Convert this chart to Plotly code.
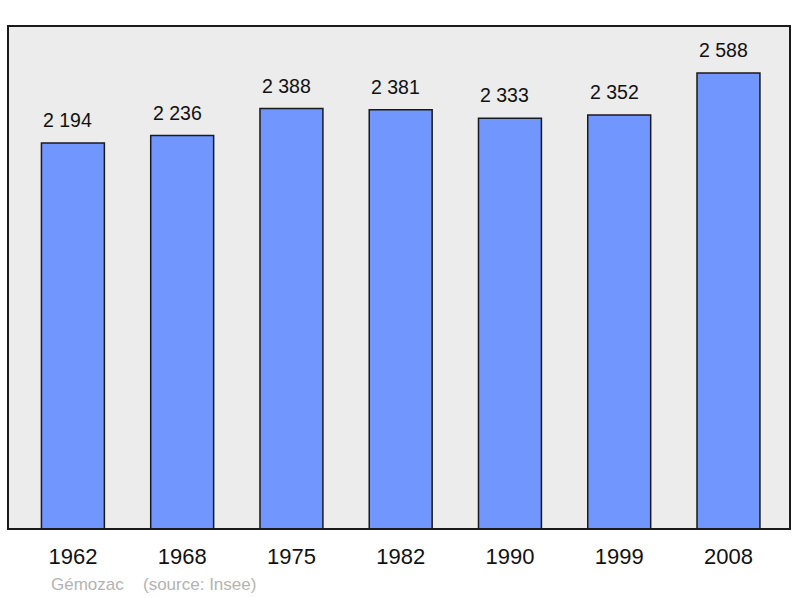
import plotly.graph_objects as go

# Population data (Gémozac, source: Insee)
years = ["1962", "1968", "1975", "1982", "1990", "1999", "2008"]
population = [2194, 2236, 2388, 2381, 2333, 2352, 2588]
labels = ["2 194", "2 236", "2 388", "2 381", "2 333", "2 352", "2 588"]

positions = list(range(len(years)))
FONT = "Liberation Sans, Arial, sans-serif"

fig = go.Figure()
fig.add_trace(go.Bar(
    x=positions,
    y=population,
    width=0.576,
    marker=dict(color="#7197ff", line=dict(color="#1a1a1a", width=1.5)),
    hoverinfo="skip",
))

# Value labels above each bar (sit slightly left of bar centre, as in the original)
for xv, yv, txt in zip(positions, population, labels):
    fig.add_annotation(
        x=xv, y=yv, text=txt, showarrow=False,
        xanchor="center", yanchor="bottom", yshift=10, xshift=-5,
        font=dict(family=FONT, size=19.5, color="#111111"),
    )

# Footer
fig.add_annotation(
    text="Gémozac", xref="paper", yref="paper", x=(49 - 9) / 782, y=-0.112,
    xanchor="left", yanchor="middle", showarrow=False,
    font=dict(family=FONT, size=17, color="#b3b3b3"),
)
fig.add_annotation(
    text="(source: Insee)", xref="paper", yref="paper", x=(141 - 9) / 782, y=-0.112,
    xanchor="left", yanchor="middle", showarrow=False,
    font=dict(family=FONT, size=17, color="#b3b3b3"),
)

fig.update_xaxes(
    range=[-0.585, 6.554],
    tickvals=positions, ticktext=years,
    showgrid=False, zeroline=False,
    showline=True, linecolor="#1a1a1a", linewidth=2, mirror=True,
    ticks="", ticklabelstandoff=8,
    tickfont=dict(family=FONT, size=22, color="#111111"),
)
fig.update_yaxes(
    range=[27, 2847],
    showgrid=False, zeroline=False, showticklabels=False,
    showline=True, linecolor="#1a1a1a", linewidth=2, mirror=True,
    ticks="",
)

fig.update_layout(
    width=800, height=598,
    margin=dict(l=9, r=9, t=27, b=70),
    plot_bgcolor="#ececec",
    paper_bgcolor="white",
    showlegend=False,
)

# remove the default page margin so the figure sits at the window corner
fig.write_html("out.html", config={"displayModeBar": False},
               post_script="document.body.style.margin='0';")
